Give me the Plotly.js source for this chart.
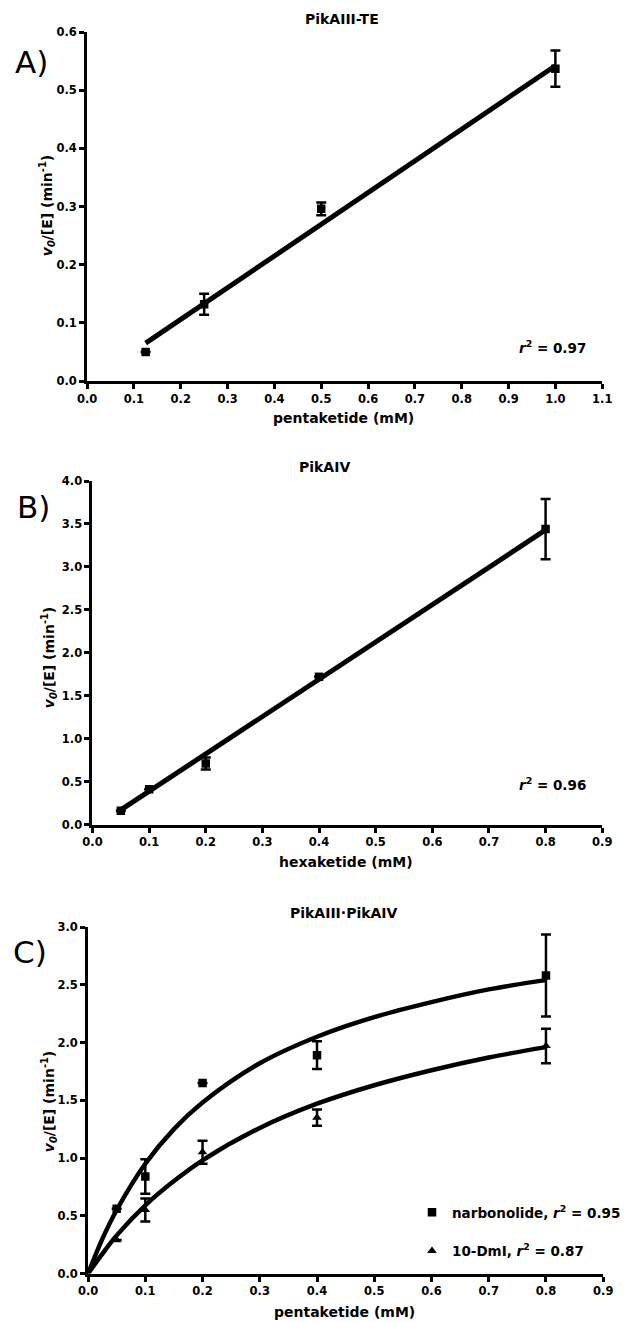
<!DOCTYPE html>
<html>
<head>
<meta charset="utf-8">
<script src="https://cdn.plot.ly/plotly-3.0.1.min.js"></script>
<style>html,body{margin:0;padding:0;background:#fff;}#chart{width:626px;height:1322px;}</style>
</head>
<body>
<div id="chart"></div>
<script>
// ---------- data ----------
// Panel A: PikAIII-TE vs pentaketide
const xA = [0.125, 0.25, 0.5, 1.0];
const yA = [0.050, 0.132, 0.296, 0.537];
const errA = [0, 0.018, 0.011, 0.031];
const fitAx = [0.125, 1.0];
const fitAy = [0.065, 0.542];
const r2A = "0.97";

// Panel B: PikAIV vs hexaketide
const xB = [0.05, 0.1, 0.2, 0.4, 0.8];
const yB = [0.16, 0.41, 0.71, 1.72, 3.44];
const errB = [0, 0, 0.07, 0, 0.35];
const fitBx = [0.05, 0.8];
const fitBy = [0.17, 3.43];
const r2B = "0.96";

// Panel C: PikAIII·PikAIV vs pentaketide
const xC = [0.05, 0.1, 0.2, 0.4, 0.8];
const yNarb = [0.56, 0.84, 1.65, 1.89, 2.58];
const errNarb = [0, 0.15, 0, 0.12, 0.355];
const yDml = [0.29, 0.55, 1.05, 1.35, 1.97];
const errDml = [0, 0.10, 0.10, 0.07, 0.15];
const curveX = [0, 0.025, 0.05, 0.1, 0.15, 0.2, 0.3, 0.4, 0.5, 0.6, 0.7, 0.8];
const curveNarb = [0, 0.30, 0.55, 0.95, 1.25, 1.48, 1.82, 2.05, 2.22, 2.35, 2.46, 2.54];
const curveDml = [0, 0.17, 0.33, 0.59, 0.80, 0.98, 1.26, 1.47, 1.63, 1.76, 1.87, 1.96];
const r2Narb = "0.95";
const r2Dml = "0.87";

// ---------- layout helpers ----------
const W = 626, H = 1322;
const px = v => v / W;
const py = v => 1 - v / H;
const FONT = "DejaVu Sans, Arial, sans-serif";
const bold = (s, c) => ({family: FONT, size: s, color: c || "#000", weight: "bold"});

function mk(x, y, err, sym, xa, ya, name, leg, grp) {
  return {
    x: x, y: y, type: "scatter", mode: "markers", name: name,
    xaxis: xa, yaxis: ya, showlegend: !!leg, legendgroup: grp,
    marker: {symbol: sym, size: 8.5, color: "#000"},
    error_y: {type: "data", array: err, visible: true, color: "#000", thickness: 2.5, width: 5}
  };
}
function ln(x, y, xa, ya, w, shape) {
  return {x: x, y: y, type: "scatter", mode: "lines", xaxis: xa, yaxis: ya,
    showlegend: false, hoverinfo: "skip",
    line: {color: "#000", width: w, shape: shape || "linear"}};
}

const data = [
  mk(xA, yA, errA, "square", "x", "y", "PikAIII-TE", false),
  ln(fitAx, fitAy, "x", "y", 5),
  mk(xB, yB, errB, "square", "x2", "y2", "PikAIV", false),
  ln(fitBx, fitBy, "x2", "y2", 5),
  mk(xC, yNarb, errNarb, "square", "x3", "y3", "narbonolide, <i>r</i><sup>2</sup> = " + r2Narb, true, "n"),
  mk(xC, yDml, errDml, "triangle-up", "x3", "y3", "10-DmI, <i>r</i><sup>2</sup> = " + r2Dml, true, "d"),
  ln(curveX, curveNarb, "x3", "y3", 4.5, "spline"),
  ln(curveX, curveDml, "x3", "y3", 4.5, "spline")
];

function ax(dom, range, dtick, anchor) {
  return {
    domain: dom, range: range, dtick: dtick, tick0: 0, tickformat: ".1f",
    anchor: anchor, showgrid: false, zeroline: false,
    showline: true, linecolor: "#000", linewidth: 3,
    ticks: "outside", ticklen: 5, tickwidth: 3, tickcolor: "#000",
    tickfont: bold(11.5), fixedrange: true
  };
}

const layout = {
  width: W, height: H,
  margin: {l: 0, r: 0, t: 0, b: 0},
  paper_bgcolor: "#fff", plot_bgcolor: "#fff",
  showlegend: true,
  legend: {x: px(419), y: py(1197), xanchor: "left", yanchor: "top",
    font: bold(13.5), bgcolor: "rgba(0,0,0,0)", traceorder: "grouped", tracegroupgap: 18},
  xaxis: ax([px(88.5), px(612)], [0, 1.1], 0.1, "y"),
  yaxis: ax([py(381), py(32)], [0, 0.6], 0.1, "x"),
  xaxis2: ax([px(94), px(612)], [0, 0.9], 0.1, "y2"),
  yaxis2: ax([py(824.5), py(481)], [0, 4.0], 0.5, "x2"),
  xaxis3: ax([px(89.5), px(613)], [0, 0.9], 0.1, "y3"),
  yaxis3: ax([py(1273.5), py(927)], [0, 3.0], 0.5, "x3"),
  annotations: []
};

function note(text, x, y, font, opts) {
  layout.annotations.push(Object.assign({
    text: text, xref: "paper", yref: "paper", x: px(x), y: py(y),
    xanchor: "center", yanchor: "middle", showarrow: false, font: font
  }, opts || {}));
}
const ytitle = "<i>v<sub>0</sub></i>/[E] (min<sup>-1</sup>)";
const regular = s => ({family: FONT, size: s, color: "#000"});

// panel A
note("PikAIII-TE", 348, 19, bold(14));
note("A)", 13, 62, regular(31), {xanchor: "left"});
note(ytitle, 48, 206, bold(14), {textangle: -90});
note("pentaketide (mM)", 349, 418, bold(14));
note("<i>r</i><sup>2</sup> = " + r2A, 598, 347, bold(13.5), {xanchor: "right"});
// panel B
note("PikAIV", 330, 467, bold(14));
note("B)", 15, 507, regular(31), {xanchor: "left"});
note(ytitle, 50, 658, bold(14), {textangle: -90});
note("hexaketide (mM)", 352, 862, bold(14));
note("<i>r</i><sup>2</sup> = " + r2B, 598, 784, bold(13.5), {xanchor: "right"});
// panel C
note("PikAIII·PikAIV", 350, 913, bold(14));
note("C)", 11, 952, regular(31), {xanchor: "left"});
note(ytitle, 50, 1102, bold(14), {textangle: -90});
note("pentaketide (mM)", 350, 1312, bold(14));

Plotly.newPlot("chart", data, layout, {displayModeBar: false, staticPlot: true});
</script>
</body>
</html>
